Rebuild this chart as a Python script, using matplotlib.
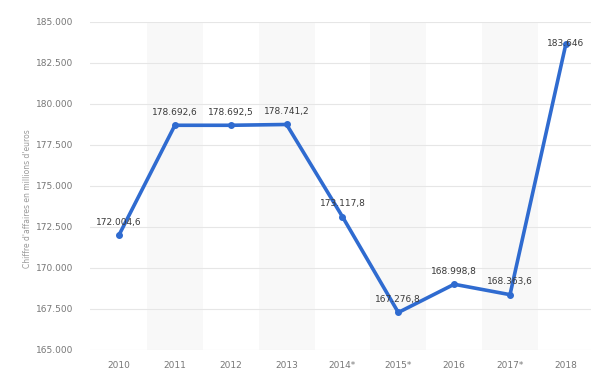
import matplotlib.pyplot as plt
import matplotlib.ticker as mticker

years = ['2010', '2011', '2012', '2013', '2014*', '2015*', '2016', '2017*', '2018']
revenue = [172004.6, 178692.6, 178692.5, 178741.2, 173117.8, 167276.8, 168998.8, 168363.6, 183646]
value_labels = ['172.004,6', '178.692,6', '178.692,5', '178.741,2', '173.117,8',
                '167.276,8', '168.998,8', '168.363,6', '183.646']

fig = plt.figure(figsize=(6, 3.9), dpi=100)
ax = fig.add_axes([0.15, 0.103, 0.835, 0.841])

x = list(range(len(years)))

# alternating background columns
for i in x:
    if i % 2 == 1:
        ax.axvspan(i - 0.5, i + 0.5, color='#f8f8f8', zorder=0, lw=0)

ax.plot(x, revenue, color='#2f6bd0', lw=2.6, marker='o', markersize=4, zorder=3,
        solid_joinstyle='round')

for xi, v, lab in zip(x, revenue, value_labels):
    # top label sits on the point, as it would be clipped otherwise
    dy = 6 if xi < len(x) - 1 else -3
    ax.annotate(lab, (xi, v), xytext=(0, dy), textcoords='offset points',
                ha='center', va='bottom', fontsize=6.5, color='#3a3a3a', zorder=4)

ax.set_ylim(165000, 185000)
ax.set_xlim(-0.52, 8.45)
ax.set_yticks(range(165000, 185001, 2500))
ax.yaxis.set_major_formatter(mticker.FuncFormatter(lambda v, p: f'{int(v):,}'.replace(',', '.')))
ax.set_xticks(x)
ax.set_xticklabels(years)

ax.grid(axis='y', color='#e6e6e6', lw=0.8, zorder=1)
ax.set_axisbelow(True)
for s in ax.spines.values():
    s.set_visible(False)
ax.tick_params(length=0, labelsize=6.5, labelcolor='#777777', pad=8)
ax.tick_params(axis='y', pad=12)

ax.set_ylabel("Chiffre d'affaires en millions d'euros", fontsize=5.5, color='#999999', labelpad=2)
ax.yaxis.set_label_coords(-0.115, 0.46)

fig.savefig('out.png', dpi=100)
